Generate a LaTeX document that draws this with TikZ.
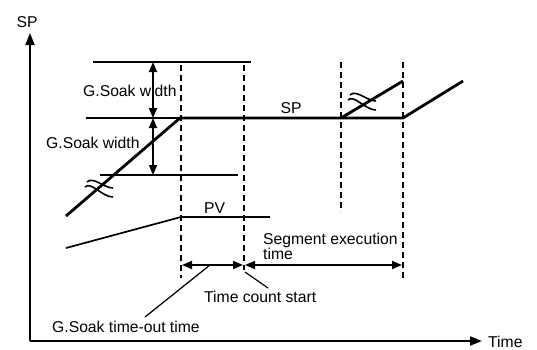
\documentclass[tikz,border=0pt]{standalone}
\usepackage{fontspec}
\setmainfont{Liberation Sans}
\usetikzlibrary{arrows.meta}
\begin{document}
\begin{tikzpicture}[x=1pt,y=-1pt,
  lbl/.style={inner sep=0pt,font=\fontsize{15.7}{17.5}\selectfont},
  thin line/.style={line width=1.7pt},
  thick line/.style={line width=2.8pt},
  dashline/.style={line width=1.8pt,dash pattern=on 6pt off 4pt},
  tip/.style={-{Triangle[length=10pt,width=8pt]}},
  dtip/.style={{Triangle[length=10pt,width=8pt]}-{Triangle[length=10pt,width=8pt]}},
  brkline/.style={line width=1.6pt}
]
\useasboundingbox (0,0) rectangle (537,349);
% axes
\coordinate (O) at (30,341);
\coordinate (ytop) at (30,33);
\coordinate (xend) at (482,341);
\draw[line width=2pt,-{Triangle[length=12pt,width=9pt]}] (O) -- (ytop);
\draw[line width=2pt,-{Triangle[length=12pt,width=9pt]}] (O) -- (xend);
\node[lbl,anchor=base] (splab) at (27,27.5) {SP};
\node[lbl,anchor=base west] (timelab) at (488,347) {Time};
% reference lines
\coordinate (t1) at (93,62);  \coordinate (t2) at (251,62);
\coordinate (m1) at (86,118); \coordinate (m2) at (180,118);
\coordinate (b1) at (100,175);\coordinate (b2) at (238,175);
\draw[thin line] (t1) -- (t2);
\draw[thin line] (m1) -- (m2);
\draw[thin line] (b1) -- (b2);
% dashed lines
\coordinate (d1a) at (181,65);  \coordinate (d1b) at (181,278);
\coordinate (d2a) at (244,65);  \coordinate (d2b) at (244,270);
\coordinate (d3a) at (341,62);  \coordinate (d3b) at (341,212);
\coordinate (d4a) at (403,62);  \coordinate (d4b) at (403,278);
\draw[dashline] (d1a) -- (d1b);
\draw[dashline] (d2a) -- (d2b);
\draw[dashline] (d3a) -- (d3b);
\draw[dashline] (d4a) -- (d4b);
% SP profile
\coordinate (r0) at (66,216);
\coordinate (r1) at (180,118);
\coordinate (r2) at (341,118);
\coordinate (r3) at (403,118);
\coordinate (r4) at (463,81);
\coordinate (r5) at (403,81);
\draw[thick line,line join=miter] (r0) -- (r1) -- (r3) -- (r4);
\draw[thick line] (r2) -- (r5);
\node[lbl,anchor=base west] (splbl) at (280.5,113.3) {SP};
% break marks
\foreach \cx/\cy in {99/189, 362/102}{
  \draw[brkline] (\cx-12,\cy-7) .. controls (\cx-6,\cy-13) and (\cx+5,\cy-1) .. (\cx+14,\cy-1);
  \draw[brkline] (\cx-14,\cy-2) .. controls (\cx-8,\cy-8) and (\cx+3,\cy+8) .. (\cx+14,\cy+8);
}
% PV
\coordinate (p0) at (66,248);
\coordinate (p1) at (181,217);
\coordinate (p2) at (270,217);
\draw[thin line] (p0) -- (p1) -- (p2);
\node[lbl,anchor=base west] (pvlbl) at (204,213.3) {PV};
% G.Soak width arrows
\coordinate (w1) at (153,62);
\coordinate (w2) at (153,118);
\coordinate (w3) at (153,175);
\draw[thin line,dtip] (w2) -- (w1);
\draw[thin line,dtip] (w2) -- (w3);
\node[lbl,anchor=base west] (gsw1) at (83,96) {G.Soak width};
\node[lbl,anchor=base west] (gsw2) at (46,148.7) {G.Soak width};
% time arrows
\coordinate (a1) at (182,265);
\coordinate (a2) at (243,265);
\coordinate (a3) at (245,265);
\coordinate (a4) at (402,265);
\draw[thin line,dtip] (a1) -- (a2);
\draw[thin line,dtip] (a3) -- (a4);
\node[lbl,anchor=base west,align=left] (seg) at (263,244) {Segment execution};
\node[lbl,anchor=base west] (seg2) at (263,259.3) {time};
% leaders
\coordinate (l1a) at (210,265);
\coordinate (l1b) at (145,317);
\draw[line width=1.2pt] (l1a) -- (l1b);
\node[lbl,anchor=base west] (gsto) at (52,332.7) {G.Soak time-out time};
\coordinate (l2a) at (245,272);
\coordinate (l2b) at (268,288);
\draw[line width=1.2pt] (l2a) -- (l2b);
\node[lbl,anchor=base west] (tcs) at (204,302.7) {Time count start};
\end{tikzpicture}
\end{document}
